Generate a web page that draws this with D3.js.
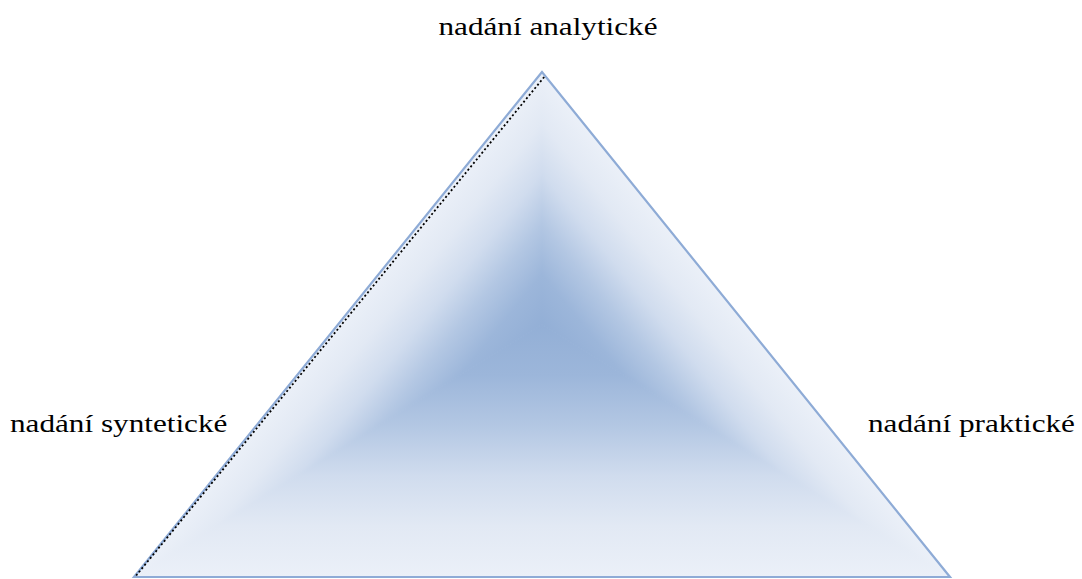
<!DOCTYPE html>
<html>
<head>
<meta charset="utf-8">
<script src="https://cdn.jsdelivr.net/npm/d3@7"></script>
<style>
  html, body { margin: 0; padding: 0; background: #ffffff; }
  svg { display: block; }
</style>
</head>
<body>
<svg id="chart" width="1082" height="579"></svg>
<script>
// ---- data ----
const labels = ["nadání analytické", "nadání syntetické", "nadání praktické"];
const vertexX = [0.5, 0, 1];   // apex, bottom-left, bottom-right (unit triangle)
const vertexY = [1, 0, 0];
const focusX = [0.5];          // centre of the path gradient
const focusY = [0.5];
const gradientOffsets = [0, 0.2, 0.4, 0.6, 0.8, 1];

// ---- styles ----
const gradientColors = ["#93afd6", "#9cb6da", "#b3c7e3", "#d0dcee", "#e2e9f4", "#ebf0f8"];
const edgeColor = "#8eabd6";

const svg = d3.select("#chart");
const x = d3.scaleLinear().domain([0, 1]).range([134, 950]);
const y = d3.scaleLinear().domain([0, 1]).range([577, 72]);

const verts = vertexX.map((vx, i) => [x(vx), y(vertexY[i])]);
const F = [x(focusX[0]), y(focusY[0])];

const defs = svg.append("defs");
const edges = [[0, 1], [1, 2], [2, 0]];

function foot(p, a, b) {
  const dx = b[0] - a[0], dy = b[1] - a[1];
  const t = ((p[0] - a[0]) * dx + (p[1] - a[1]) * dy) / (dx * dx + dy * dy);
  return [a[0] + t * dx, a[1] + t * dy];
}

const g = svg.append("g");
edges.forEach((e, k) => {
  const a = verts[e[0]], b = verts[e[1]];
  const f = foot(F, a, b);
  const grad = defs.append("linearGradient")
    .attr("id", "pg" + k)
    .attr("gradientUnits", "userSpaceOnUse")
    .attr("x1", F[0]).attr("y1", F[1])
    .attr("x2", f[0]).attr("y2", f[1]);
  gradientOffsets.forEach((o, i) => {
    grad.append("stop").attr("offset", o).attr("stop-color", gradientColors[i]);
  });
  g.append("path")
    .attr("d", d3.line()([F, a, b]) + "Z")
    .attr("fill", `url(#pg${k})`)
    .attr("stroke", `url(#pg${k})`)
    .attr("stroke-width", 1)
    .attr("stroke-linejoin", "round");
});

// outline
svg.append("path")
  .attr("d", d3.line()(verts) + "Z")
  .attr("fill", "none")
  .attr("stroke", edgeColor)
  .attr("stroke-width", 2.2)
  .attr("stroke-linejoin", "miter");

// dark stepped artefact along the inner side of the left edge
const A = verts[0], B = verts[1];
svg.append("line")
  .attr("x1", A[0] + 2.2).attr("y1", A[1] + 5)
  .attr("x2", B[0] + 2.2).attr("y2", B[1] - 1.5)
  .attr("stroke", "#000")
  .attr("stroke-width", 1.8)
  .attr("stroke-dasharray", "2 2.4");

// labels
const font = "'Liberation Serif', 'Times New Roman', serif";
const labelPos = [
  { x: 548, y: 35, anchor: "middle" },
  { x: 10, y: 432, anchor: "start" },
  { x: 868, y: 432, anchor: "start" }
];
labels.forEach((t, i) => {
  const p = labelPos[i];
  svg.append("text")
    .attr("transform", `translate(${p.x},${p.y}) scale(1.2,1)`)
    .attr("text-anchor", p.anchor)
    .attr("font-family", font)
    .attr("font-size", 26)
    .attr("fill", "#000")
    .text(t);
});
</script>
</body>
</html>
